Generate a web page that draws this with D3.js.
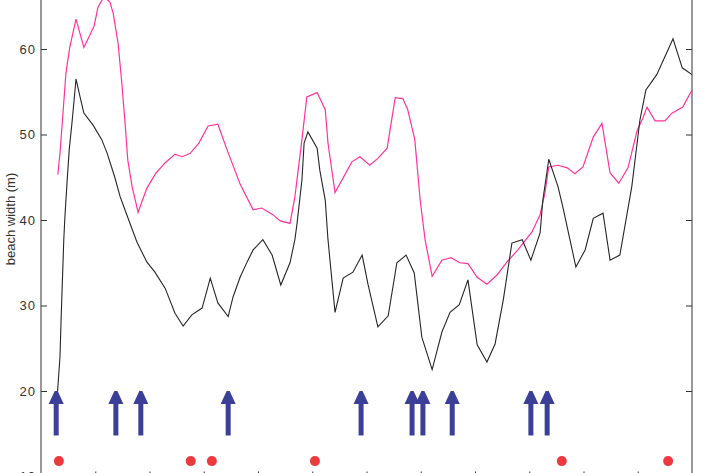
<!DOCTYPE html>
<html>
<head>
<meta charset="utf-8">
<script src="https://cdn.jsdelivr.net/npm/d3@7"></script>
<style>
  body { margin: 0; background: #fff; }
  svg { display: block; }
  .axis text { font-family: "Liberation Sans", Arial, sans-serif; font-size: 13px; fill: #333; letter-spacing: 1px; }
  .axis path, .axis line { stroke: #333; }
</style>
</head>
<body>
<svg width="710" height="473"></svg>
<script>
// measured beach width (black) and modelled / upper envelope (pink), x in axis units
var blackX = [0.30,0.35,0.37,0.42,0.44,0.48,0.52,0.57,0.61,0.645,0.72,0.79,0.96,1.12,1.22,1.36,1.46,1.60,1.77,1.95,
  2.10,2.29,2.47,2.62,2.78,2.97,3.12,3.26,3.45,3.54,3.67,3.80,3.91,4.09,4.26,4.42,4.59,4.68,4.72,4.81,
  4.85,4.92,5.09,5.14,5.24,5.29,5.42,5.57,5.75,5.92,6.03,6.21,6.40,6.56,6.73,6.88,7.02,7.21,7.39,7.54,
  7.71,7.87,8.04,8.22,8.37,8.52,8.68,8.87,9.03,9.20,9.25,9.36,9.53,9.62,9.75,9.86,10.03,10.18,10.36,10.49,
  10.67,10.89,11.04,11.15,11.35,11.50,11.65,11.82,12.0];
var blackY = [19.5,24.0,28.3,37.7,40.3,44.4,48.2,51.3,54.0,56.5,54.4,52.5,51.1,49.4,47.8,45.0,42.7,40.3,37.4,35.1,
  33.9,32.0,29.1,27.6,28.9,29.7,33.2,30.3,28.7,31.0,33.3,35.1,36.5,37.7,35.9,32.4,35.0,37.7,39.6,44.7,
  49.0,50.3,48.4,45.8,42.3,37.7,29.2,33.2,33.9,35.9,32.4,27.5,28.8,35.0,35.9,33.8,26.3,22.5,26.9,29.2,
  30.1,33.0,25.4,23.4,25.5,30.6,37.3,37.7,35.3,38.5,42.3,47.1,43.9,41.5,37.7,34.5,36.5,40.2,40.8,35.3,
  35.9,43.9,51.7,55.2,57.0,59.1,61.2,57.8,57.0];

var pinkX = [0.31,0.35,0.41,0.46,0.53,0.645,0.79,0.90,0.98,1.05,1.16,1.27,1.33,1.42,1.49,1.55,1.60,1.68,1.79,1.95,
  2.12,2.29,2.47,2.60,2.75,2.91,3.08,3.26,3.43,3.67,3.91,4.07,4.28,4.41,4.59,4.68,4.81,4.90,5.09,5.24,
  5.29,5.42,5.73,5.88,6.06,6.21,6.38,6.53,6.67,6.76,6.89,6.99,7.08,7.21,7.39,7.56,7.72,7.87,8.04,8.22,
  8.41,8.59,8.79,9.05,9.20,9.29,9.36,9.53,9.70,9.84,9.99,10.18,10.34,10.49,10.65,10.82,10.99,11.10,11.17,11.32,
  11.50,11.63,11.83,12.0];
var pinkY = [45.3,47.8,52.9,57.2,60.2,63.5,60.2,61.6,62.7,64.9,66.1,65.5,64.2,60.7,56.0,51.3,47.0,43.9,40.9,43.7,
  45.5,46.7,47.7,47.4,47.8,49.0,51.0,51.2,48.2,44.2,41.2,41.4,40.6,39.9,39.6,42.7,49.4,54.4,54.9,52.9,
  49.0,43.2,46.8,47.4,46.4,47.2,48.4,54.3,54.2,52.9,49.4,42.3,37.7,33.4,35.3,35.6,35.0,34.9,33.3,32.5,
  33.6,35.1,36.5,38.6,40.6,43.2,46.2,46.4,46.1,45.4,46.2,49.7,51.3,45.5,44.3,46.1,50.5,52.0,53.2,51.6,
  51.6,52.5,53.2,55.2];

// event markers
var arrowX = [0.28,1.38,1.84,3.45,5.90,6.84,7.04,7.58,9.03,9.33];
var dotX = [0.33,2.76,3.15,5.05,9.60,11.56];
var dotLevel = 11.8;
var arrowTop = 20, arrowBase = 14.8;

var yTicks = [10,20,30,40,50,60];
var xTicks = [1,2,3,4,5,6,7,8,9,10,11];

var svg = d3.select("svg");
var left = 41, right = 692;

var x = d3.scaleLinear().domain([0, 12]).range([left, right]);
var y = d3.scaleLinear().domain([10, 60]).range([476.5, 49]);

// axes, ticks pointing inward
svg.append("g")
    .attr("class", "axis")
    .attr("transform", "translate(" + left + ",0)")
    .call(d3.axisLeft(y).tickValues(yTicks).tickSizeInner(-6).tickSizeOuter(0).tickPadding(5))
    .call(function (g) { g.select(".domain").attr("d", "M0,-10V" + 480); });

svg.append("g")
    .attr("class", "axis")
    .attr("transform", "translate(" + right + ",0)")
    .call(d3.axisRight(y).tickValues(yTicks).tickSizeInner(-6).tickSizeOuter(0).tickFormat(""))
    .call(function (g) { g.select(".domain").attr("d", "M0,-10V" + 480); });

svg.append("g")
    .attr("class", "axis")
    .attr("transform", "translate(0," + y(10) + ")")
    .call(d3.axisBottom(x).tickValues(xTicks).tickSizeInner(-5).tickSizeOuter(0).tickFormat(""));

svg.append("text")
    .attr("transform", "translate(15," + 219 + ") rotate(-90)")
    .attr("text-anchor", "middle")
    .style("font-family", "Liberation Sans, Arial, sans-serif")
    .style("font-size", "13px")
    .style("fill", "#333")
    .text("beach width (m)");

var line = d3.line()
    .x(function (d) { return x(d[0]); })
    .y(function (d) { return y(d[1]); });

svg.append("path")
    .datum(d3.zip(pinkX, pinkY))
    .attr("fill", "none")
    .attr("stroke", "#ff3399")
    .attr("stroke-width", 1.2)
    .attr("d", line);

svg.append("path")
    .datum(d3.zip(blackX, blackY))
    .attr("fill", "none")
    .attr("stroke", "#262626")
    .attr("stroke-width", 1.1)
    .attr("d", line);

// blue arrows
var arrows = svg.selectAll(".arrow")
    .data(arrowX)
    .enter().append("g")
    .attr("class", "arrow")
    .attr("fill", "#3b3f98");

arrows.append("rect")
    .attr("x", function (d) { return x(d) - 2.5; })
    .attr("y", y(arrowTop) + 10)
    .attr("width", 5)
    .attr("height", y(arrowBase) - y(arrowTop) - 10);

arrows.append("path")
    .attr("d", function (d) {
        var cx = x(d), t = y(arrowTop);
        return "M" + (cx - 7.5) + "," + (t + 13) + "L" + (cx - 1.5) + "," + t +
            "L" + (cx + 1.5) + "," + t + "L" + (cx + 7.5) + "," + (t + 13) + "Z";
    });

// red dots
svg.selectAll(".dot")
    .data(dotX)
    .enter().append("circle")
    .attr("class", "dot")
    .attr("cx", function (d) { return x(d); })
    .attr("cy", y(dotLevel))
    .attr("r", 5)
    .attr("fill", "#ec3a3f");
</script>
</body>
</html>
